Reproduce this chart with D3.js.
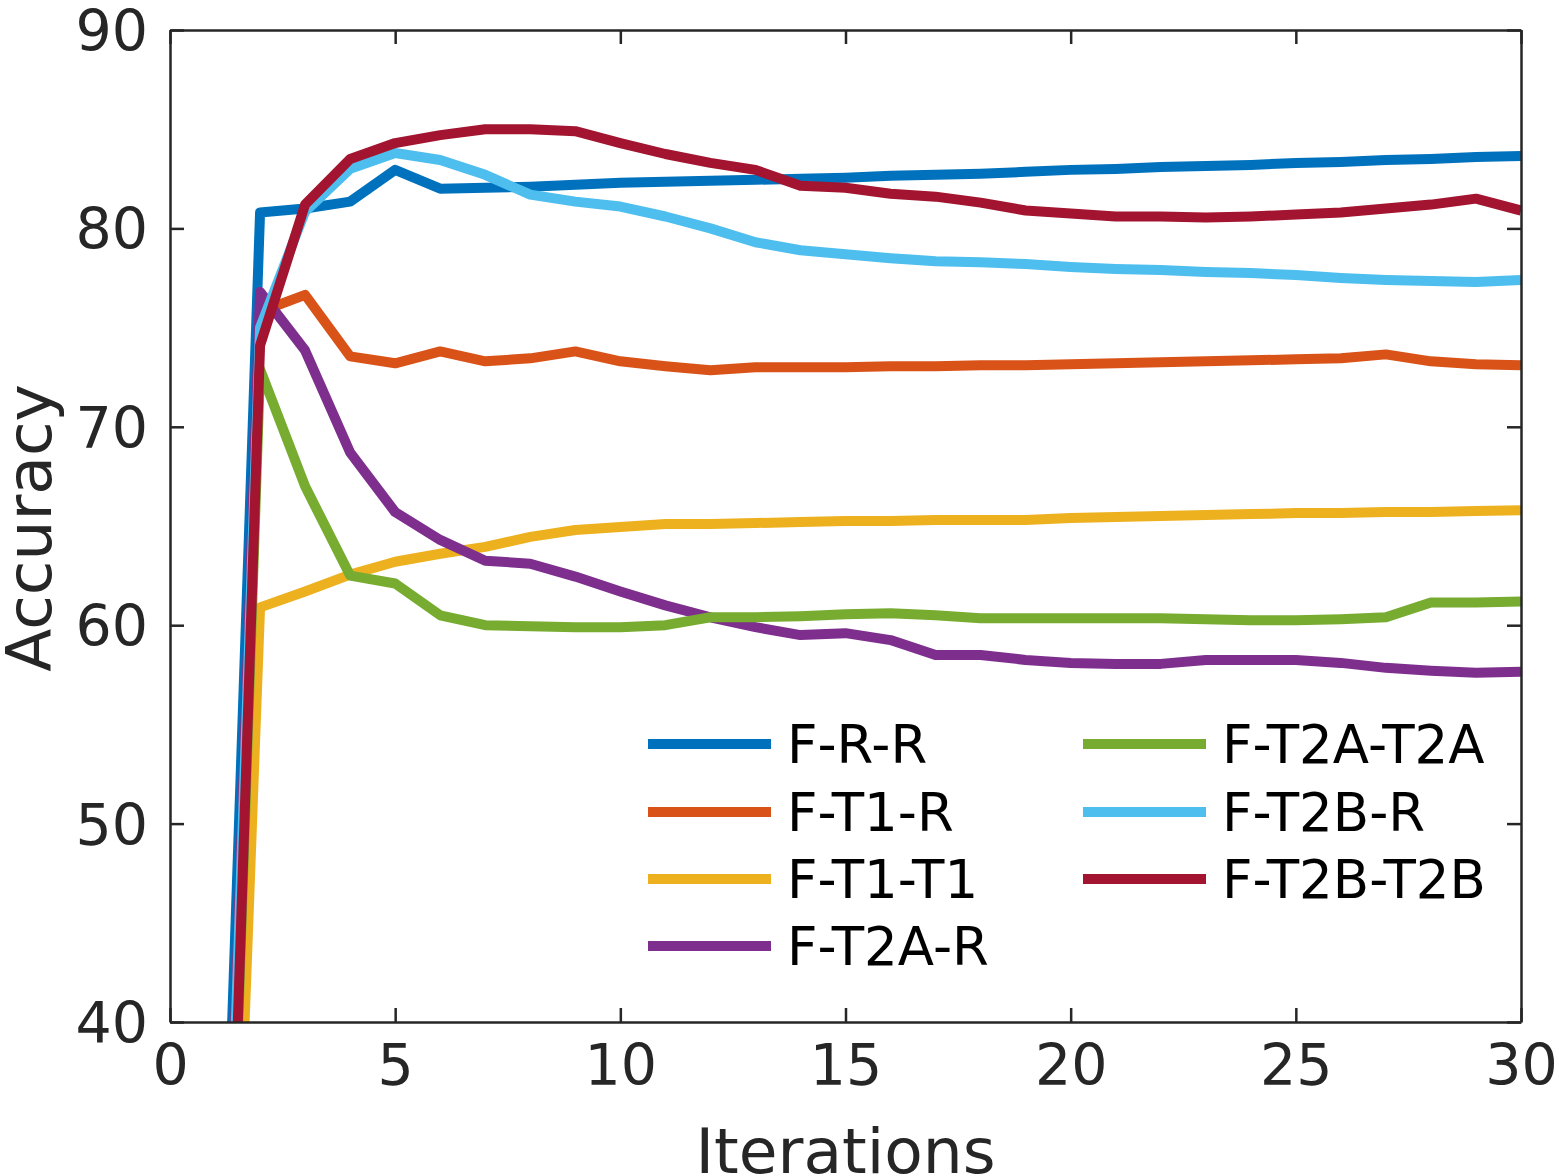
<!DOCTYPE html>
<html>
<head>
<meta charset="utf-8">
<script src="https://cdn.jsdelivr.net/npm/d3@7"></script>
<style>
  html, body { margin: 0; padding: 0; background: #fff; }
  text { font-family: "DejaVu Sans", sans-serif; fill: #262626; }
</style>
</head>
<body>
<script>
'use strict';

// iterations 1..30
const iterations = d3.range(1, 31);

const seriesNames = ['F-R-R', 'F-T1-R', 'F-T1-T1', 'F-T2A-R', 'F-T2A-T2A', 'F-T2B-R', 'F-T2B-T2B'];
const seriesColors = ['#0072BD', '#D95319', '#EDB120', '#7E2F8E', '#77AC30', '#4DBEEE', '#A2142F'];

const frr = [15, 80.8, 81.0, 81.35, 82.95, 82.0, 82.05, 82.1, 82.2, 82.3, 82.35, 82.4, 82.45, 82.5, 82.55,
  82.65, 82.7, 82.75, 82.85, 82.95, 83.0, 83.1, 83.15, 83.2, 83.3, 83.35, 83.45, 83.5, 83.6, 83.65];
const ft1r = [10, 75.8, 76.65, 73.55, 73.2, 73.8, 73.3, 73.45, 73.8, 73.3, 73.05, 72.85, 73.0, 73.0, 73.0,
  73.05, 73.05, 73.1, 73.1, 73.15, 73.2, 73.25, 73.3, 73.35, 73.4, 73.45, 73.65, 73.3, 73.15, 73.1];
const ft1t1 = [0, 60.9, 61.7, 62.55, 63.2, 63.6, 63.95, 64.45, 64.8, 64.95, 65.1, 65.1, 65.15, 65.2, 65.25,
  65.25, 65.3, 65.3, 65.3, 65.4, 65.45, 65.5, 65.55, 65.6, 65.65, 65.65, 65.7, 65.7, 65.75, 65.8];
const ft2ar = [10, 76.8, 73.85, 68.7, 65.7, 64.3, 63.25, 63.1, 62.45, 61.7, 61.0, 60.4, 59.9, 59.5, 59.6,
  59.25, 58.5, 58.5, 58.25, 58.1, 58.05, 58.05, 58.25, 58.25, 58.25, 58.1, 57.85, 57.7, 57.6, 57.65];
const ft2at2a = [5, 72.9, 67.0, 62.5, 62.1, 60.5, 60.0, 59.95, 59.9, 59.9, 60.0, 60.4, 60.4, 60.45, 60.55,
  60.6, 60.5, 60.35, 60.35, 60.35, 60.35, 60.35, 60.3, 60.25, 60.25, 60.3, 60.4, 61.15, 61.15, 61.2];
const ft2br = [10, 75.0, 80.85, 83.0, 83.8, 83.45, 82.7, 81.7, 81.35, 81.1, 80.6, 80.0, 79.3, 78.9, 78.7,
  78.5, 78.35, 78.3, 78.2, 78.05, 77.95, 77.9, 77.8, 77.75, 77.65, 77.5, 77.4, 77.35, 77.3, 77.4];
const ft2bt2b = [5, 74.1, 81.2, 83.5, 84.3, 84.7, 85.0, 85.0, 84.9, 84.3, 83.75, 83.3, 82.95, 82.15, 82.05,
  81.75, 81.6, 81.3, 80.9, 80.75, 80.6, 80.6, 80.55, 80.6, 80.7, 80.8, 81.0, 81.2, 81.5, 80.9];

const seriesValues = [frr, ft1r, ft1t1, ft2ar, ft2at2a, ft2br, ft2bt2b];

const xTicks = [0, 5, 10, 15, 20, 25, 30];
const yTicks = [40, 50, 60, 70, 80, 90];

const width = 1559, height = 1176;
const margin = {left: 170, right: 38, top: 30, bottom: 154};
const axisColor = '#262626';

const x = d3.scaleLinear().domain([0, 30]).range([margin.left, width - margin.right]);
const y = d3.scaleLinear().domain([40, 90]).range([height - margin.bottom, margin.top]);

const svg = d3.select('body').append('svg')
    .attr('width', width)
    .attr('height', height)
    .attr('viewBox', [0, 0, width, height]);

svg.append('clipPath').attr('id', 'plot-clip')
  .append('rect')
    .attr('x', x(0)).attr('y', y(90))
    .attr('width', x(30) - x(0)).attr('height', y(40) - y(90));

// lines
const line = d3.line()
    .x((d, i) => x(iterations[i]))
    .y(d => y(d));

svg.append('g')
    .attr('clip-path', 'url(#plot-clip)')
  .selectAll('path')
  .data(seriesValues)
  .join('path')
    .attr('fill', 'none')
    .attr('stroke', (d, i) => seriesColors[i])
    .attr('stroke-width', 10)
    .attr('stroke-linejoin', 'round')
    .attr('d', line);

// axes: MATLAB style box with inward ticks on all four sides
const tickLen = 14;
const bottomAxis = d3.axisBottom(x).tickValues(xTicks).tickSizeInner(-tickLen).tickSizeOuter(0).tickPadding(22);
const leftAxis = d3.axisLeft(y).tickValues(yTicks).tickSizeInner(-tickLen).tickSizeOuter(0).tickPadding(22);
const topAxis = d3.axisTop(x).tickValues(xTicks).tickSizeInner(-tickLen).tickSizeOuter(0).tickFormat('');
const rightAxis = d3.axisRight(y).tickValues(yTicks).tickSizeInner(-tickLen).tickSizeOuter(0).tickFormat('');

function styleAxis(g) {
  g.select('.domain').attr('stroke', axisColor).attr('stroke-width', 2.5);
  g.selectAll('.tick line').attr('stroke', axisColor).attr('stroke-width', 2.5);
  g.selectAll('.tick text')
    .attr('fill', axisColor)
    .style('font-family', '"DejaVu Sans", sans-serif')
    .style('font-size', '57px');
}

svg.append('g').attr('transform', `translate(0,${y(40)})`).call(bottomAxis).call(styleAxis)
  .selectAll('.tick text').attr('dy', '0.72em');
svg.append('g').attr('transform', `translate(${x(0)},0)`).call(leftAxis).call(styleAxis)
  .selectAll('.tick text').attr('dy', '0.36em');
svg.append('g').attr('transform', `translate(0,${y(90)})`).call(topAxis).call(styleAxis);
svg.append('g').attr('transform', `translate(${x(30)},0)`).call(rightAxis).call(styleAxis);

// axis titles
svg.append('text')
    .attr('x', (x(0) + x(30)) / 2)
    .attr('y', 1173)
    .attr('text-anchor', 'middle')
    .style('font-size', '63px')
    .text('Iterations');

svg.append('text')
    .attr('transform', `translate(51,${(y(40) + y(90)) / 2 + 2}) rotate(-90)`)
    .attr('text-anchor', 'middle')
    .style('font-size', '63px')
    .text('Accuracy');

// legend, two columns, column-major like MATLAB NumColumns=2
const legendCols = [{lineX: 648, textX: 787}, {lineX: 1083, textX: 1222}];
const legendRowY = [744, 812, 879, 946];
const perCol = 4;

const legend = svg.append('g')
  .selectAll('g')
  .data(seriesNames)
  .join('g')
    .attr('transform', (d, i) => {
      const c = legendCols[Math.floor(i / perCol)];
      return `translate(${c.lineX},${legendRowY[i % perCol]})`;
    });

legend.append('line')
    .attr('x1', 0).attr('x2', 123)
    .attr('stroke', (d, i) => seriesColors[i])
    .attr('stroke-width', 10);

legend.append('text')
    .attr('x', (d, i) => legendCols[Math.floor(i / perCol)].textX - legendCols[Math.floor(i / perCol)].lineX)
    .attr('dy', '0.36em')
    .style('font-size', '53px')
    .style('fill', '#000')
    .text(d => d);
</script>
</body>
</html>
